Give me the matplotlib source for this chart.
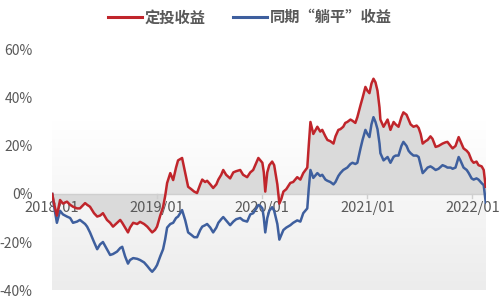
import numpy as np
import pandas as pd
import matplotlib
matplotlib.use("Agg")
import matplotlib.pyplot as plt
from matplotlib.lines import Line2D

plt.rcParams['font.family'] = ['Noto Sans CJK SC', 'DejaVu Sans']

# values (percent)
dates = [
    "2018-01-02", "2018-01-08", "2018-01-18", "2018-01-29", "2018-02-08", "2018-02-22",
    "2018-03-05", "2018-03-15", "2018-03-29", "2018-04-08", "2018-04-26", "2018-05-03",
    "2018-05-13", "2018-05-27", "2018-06-07", "2018-06-17", "2018-06-27", "2018-07-11",
    "2018-07-22", "2018-08-01", "2018-08-15", "2018-08-26", "2018-09-02", "2018-09-12",
    "2018-09-22", "2018-09-29", "2018-10-10", "2018-10-24", "2018-11-03", "2018-11-17",
    "2018-11-28", "2018-12-08", "2018-12-15", "2018-12-25", "2019-01-01", "2019-01-12",
    "2019-01-22", "2019-01-29", "2019-02-05", "2019-02-16", "2019-02-26", "2019-03-08",
    "2019-03-15", "2019-03-29", "2019-04-09", "2019-04-19", "2019-04-30", "2019-05-10",
    "2019-05-20", "2019-05-31", "2019-06-07", "2019-06-17", "2019-06-24", "2019-07-05",
    "2019-07-15", "2019-07-26", "2019-08-02", "2019-08-12", "2019-08-19", "2019-08-29",
    "2019-09-12", "2019-09-23", "2019-10-03", "2019-10-17", "2019-10-27", "2019-11-10",
    "2019-11-21", "2019-12-01", "2019-12-12", "2019-12-19", "2019-12-26", "2020-01-02",
    "2020-01-07", "2020-01-12", "2020-01-19", "2020-01-26", "2020-02-05", "2020-02-12",
    "2020-02-23", "2020-03-01", "2020-03-08", "2020-03-15", "2020-03-25", "2020-04-08",
    "2020-04-18", "2020-05-02", "2020-05-13", "2020-05-23", "2020-06-06", "2020-06-11",
    "2020-06-17", "2020-06-27", "2020-07-11", "2020-07-21", "2020-07-28", "2020-08-08",
    "2020-08-15", "2020-08-25", "2020-09-05", "2020-09-12", "2020-09-22", "2020-09-29",
    "2020-10-09", "2020-10-16", "2020-10-23", "2020-11-03", "2020-11-10", "2020-11-20",
    "2020-11-27", "2020-12-08", "2020-12-15", "2020-12-25", "2021-01-01", "2021-01-08",
    "2021-01-15", "2021-01-22", "2021-01-29", "2021-02-05", "2021-02-12", "2021-02-15",
    "2021-02-26", "2021-03-12", "2021-03-22", "2021-04-02", "2021-04-09", "2021-04-19",
    "2021-04-29", "2021-05-06", "2021-05-17", "2021-05-24", "2021-05-31", "2021-06-10",
    "2021-06-21", "2021-06-28", "2021-07-05", "2021-07-12", "2021-07-22", "2021-07-29",
    "2021-08-08", "2021-08-15", "2021-08-26", "2021-09-05", "2021-09-19", "2021-09-29",
    "2021-10-06", "2021-10-17", "2021-10-24", "2021-11-03", "2021-11-14", "2021-11-20",
    "2021-12-01", "2021-12-12", "2021-12-19", "2021-12-29", "2022-01-05", "2022-01-15",
    "2022-01-22", "2022-02-02", "2022-02-09", "2022-02-16",
]

dca_ret = [
    0, -4, -9, -2.5, -4, -3.2,
    -4.5, -5.3, -6, -6, -3.8, -4.5,
    -5.3, -8, -9.4, -9, -8, -10.8,
    -12, -13.6, -12, -10.8, -12, -14,
    -16, -14, -12, -12.5, -11.6, -12.5,
    -13.6, -15, -16, -15, -13.6, -9,
    -5.4, -1, 4.6, 8.7, 5.8, 11,
    14, 15, 8.7, 3, 2, 1,
    0.4, 4, 6, 5, 5.5, 4,
    2.5, 4, 6, 8, 10, 8,
    6.5, 9, 9.5, 10, 8, 7,
    9, 10, 13, 15, 14, 13,
    9, 1, 9, 12, 13.5, 12,
    4, -4, -2, 1, 2, 4.6,
    5, 7, 6, 8.7, 11, 20,
    30, 25, 28, 26, 26.7, 24,
    22.5, 22, 21, 24, 26.7, 27,
    28, 29.6, 30, 31, 30.5, 29.6,
    32, 37, 40, 44.6, 43, 42,
    46, 48, 46.5, 43, 36, 31,
    28, 31, 26.7, 30, 29, 28,
    32, 34, 33, 31, 29, 28,
    28.5, 27.5, 25, 21, 22, 22.5,
    24, 23, 19.6, 20, 21, 21.5,
    21.7, 20, 19, 20, 23.7, 22,
    19, 18, 17, 14, 13, 13.5,
    12, 11.5, 10, 3,
]

hold_ret = [
    0, -5, -12, -7, -8.5, -9.4,
    -10, -12, -11.5, -10.8, -12.5, -13.6,
    -16, -20, -23, -21, -20, -23,
    -25.4, -25, -24, -22.5, -22, -26,
    -29, -27.5, -26.7, -27, -27.5, -28.5,
    -30, -31.5, -32.4, -31, -29.6, -26,
    -23, -19, -14, -12.5, -12, -10,
    -9.4, -6.7, -11, -16, -17, -18,
    -18, -15, -13.6, -13, -12.5, -14,
    -16, -14, -12, -10.5, -9.6, -11,
    -13, -11.5, -10.5, -10, -11, -11.5,
    -8.5, -8, -6, -4.6, -5, -6,
    -10, -16, -10, -7, -5.5, -7,
    -12.5, -19, -17, -15, -14, -13,
    -12, -11, -11.5, -8, -6, 2,
    10, 6.7, 8.7, 7.5, 8, 6,
    5.5, 5, 4, 5, 7.5, 8.7,
    10, 10.5, 11, 12.5, 13, 12.5,
    13, 19, 22.5, 26.7, 25, 23.7,
    29, 32, 30, 27, 21, 17,
    14, 15.4, 13, 15.5, 16, 16,
    20, 21.7, 20, 18, 17, 16,
    16, 15.4, 12, 8.7, 10, 11,
    11.5, 11, 10, 10.5, 12, 11.5,
    11, 11, 10.5, 11, 15.4, 14,
    11, 10, 8.7, 6.5, 6, 6.5,
    6, 4.5, 3.7, -3.5,
]

tick_dates = ["2018-01-01", "2019-01-01", "2020-01-01", "2021-01-01", "2022-01-01"]
tick_labels = ["2018/01", "2019/01", "2020/01", "2021/01", "2022/01"]
y_ticks = [-40, -20, 0, 20, 40, 60]

x = pd.to_datetime(dates)
red = "#c0252b"
blue = "#3e5f9e"
gray_txt = "#595959"

fig = plt.figure(figsize=(5.0, 2.99), dpi=100)
ax = fig.add_axes([0.104, 0.030, 0.868, 0.803])

xmin = pd.Timestamp("2018-01-01")
xmax = pd.Timestamp("2022-02-17")
ax.set_xlim(xmin, xmax)
ax.set_ylim(-40, 60)

# faint gradient background (white at top, light gray at bottom)
grad = np.linspace(0, 1, 256).reshape(-1, 1)
ax.imshow(grad, aspect="auto", cmap=plt.cm.colors.LinearSegmentedColormap.from_list(
    "bg", ["#ececec", "#ffffff"]), extent=[ax.get_xlim()[0], ax.get_xlim()[1], -40, 30],
    origin="lower", zorder=0)
ax.set_xlim(xmin, xmax)
ax.set_ylim(-40, 60)

ax.fill_between(x, dca_ret, 0, color="#dadada", lw=0, zorder=1)
ax.axhline(0, color="#cfcfcf", lw=1, zorder=2)

for d, lab in zip(tick_dates, tick_labels):
    td = pd.Timestamp(d)
    ax.plot([td, td], [0, -1.5], color="#cfcfcf", lw=1, zorder=2)
    ax.text(td, -5.8, lab, ha="center", va="center", fontsize=10.5,
            color=gray_txt, zorder=2)

ax.plot(x, dca_ret, color=red, lw=1.8, zorder=4)
ax.plot(x, hold_ret, color=blue, lw=1.8, zorder=3)

ax.set_xticks([])
ax.set_yticks(y_ticks)
ax.set_yticklabels([f"{v}%" for v in y_ticks], fontsize=10, color=gray_txt)
ax.tick_params(axis="y", length=0, pad=14)
for s in ax.spines.values():
    s.set_visible(False)

handles = [Line2D([0], [0], color=red, lw=2.2), Line2D([0], [0], color=blue, lw=2.2)]
fig.legend(handles, ["定投收益", "同期“躺平”收益"], loc="upper center",
           bbox_to_anchor=(0.5, 1.015), ncol=2, frameon=False, handlelength=2.2,
           handletextpad=0.2, columnspacing=1.8,
           prop={"size": 11, "weight": "bold"}, labelcolor=gray_txt)

fig.savefig("out.png", dpi=100)
